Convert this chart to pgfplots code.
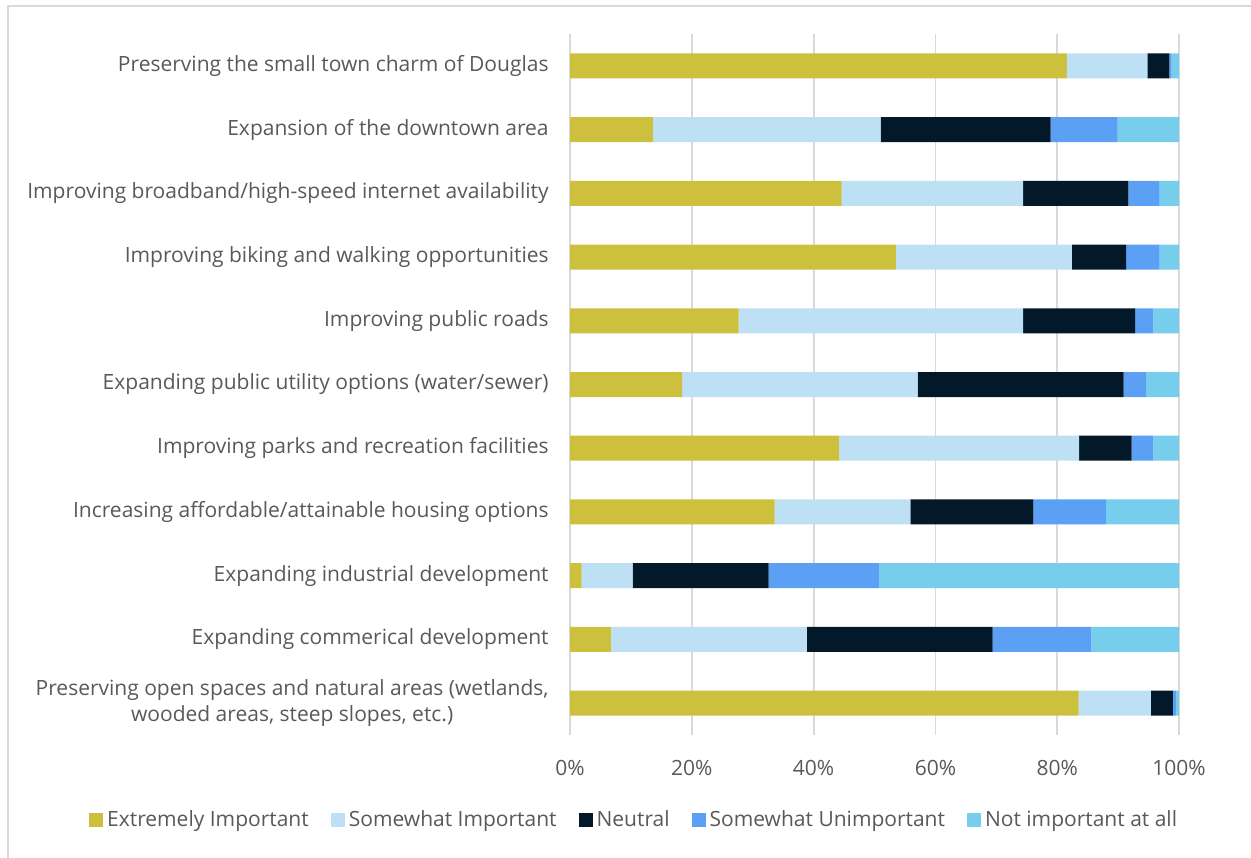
\documentclass[border=0pt]{standalone}
\usepackage{fontspec}
\setmainfont{Open Sans}
\usepackage{pgfplots}
\usepackage{pgfplotstable}
\pgfplotsset{compat=1.18}

\definecolor{cEI}{RGB}{204,192,61}
\definecolor{cSI}{RGB}{189,224,245}
\definecolor{cN}{RGB}{3,24,41}
\definecolor{cSU}{RGB}{91,160,244}
\definecolor{cNI}{RGB}{118,206,236}
\definecolor{txt}{RGB}{89,89,89}
\definecolor{grd}{RGB}{217,217,217}

% rows from bottom (0) to top (10)
\pgfplotstableread{
idx EI   SI   N    SU   NI
0   83.5 11.9 3.6  0.5  0.5
1   6.7  32.2 30.5 16.2 14.4
2   1.9  8.4  22.3 18.1 49.3
3   33.6 22.3 20.2 11.9 12.0
4   44.2 39.4 8.6  3.6  4.2
5   18.4 38.7 33.8 3.7  5.4
6   27.7 46.7 18.4 3.0  4.2
7   53.5 28.9 8.9  5.5  3.2
8   44.6 29.8 17.3 5.1  3.2
9   13.6 37.4 27.9 11.0 10.1
10  81.6 13.2 3.6  0.4  1.2
}\data

\begin{document}
\fontsize{10.5}{13}\selectfont
\begin{tikzpicture}
\path[use as bounding box] (0,0) rectangle (625.5pt,-428.5pt);
\draw[grd, line width=1pt] (4pt,-430pt) -- (4pt,-3pt) -- (627pt,-3pt);
\begin{axis}[
    at={(285pt,-367.5pt)}, anchor=south west,
    scale only axis,
    width=304.5pt, height=350.5pt,
    xbar stacked,
    bar width=12.5pt,
    xmin=0, xmax=100,
    ymin=-0.5, ymax=10.5,
    xtick={0,20,40,60,80,100},
    xticklabels={0\%,20\%,40\%,60\%,80\%,100\%},
    ytick={0,...,10},
    yticklabels={
        {Preserving open spaces and natural areas (wetlands,\\wooded areas, steep slopes, etc.)},
        Expanding commerical development,
        Expanding industrial development,
        Increasing affordable/attainable housing options,
        Improving parks and recreation facilities,
        Expanding public utility options (water/sewer),
        Improving public roads,
        Improving biking and walking opportunities,
        Improving broadband/high-speed internet availability,
        Expansion of the downtown area,
        Preserving the small town charm of Douglas},
    yticklabel style={align=center, text=txt, xshift=-7pt},
    xticklabel style={text=txt, yshift=-9pt},
    major tick length=0pt,
    axis line style={draw=none},
    xmajorgrids, grid style={grd, line width=0.9pt},
    legend columns=-1,
    legend style={at={(0.107,-0.121)}, anchor=center, draw=none,
        text=txt, font=\fontsize{10.5}{13}\selectfont,
        /tikz/every even column/.append style={column sep=9pt}},
    legend image code/.code={\fill[#1] (0pt,-3.5pt) rectangle (7pt,3.5pt);},
]
\addplot[fill=cEI, draw=none] table[x=EI, y=idx] {\data};
\addplot[fill=cSI, draw=none] table[x=SI, y=idx] {\data};
\addplot[fill=cN, draw=none] table[x=N, y=idx] {\data};
\addplot[fill=cSU, draw=none] table[x=SU, y=idx] {\data};
\addplot[fill=cNI, draw=none] table[x=NI, y=idx] {\data};
\legend{Extremely Important, Somewhat Important, Neutral, Somewhat Unimportant, Not important at all}
\end{axis}
\end{tikzpicture}
\end{document}
